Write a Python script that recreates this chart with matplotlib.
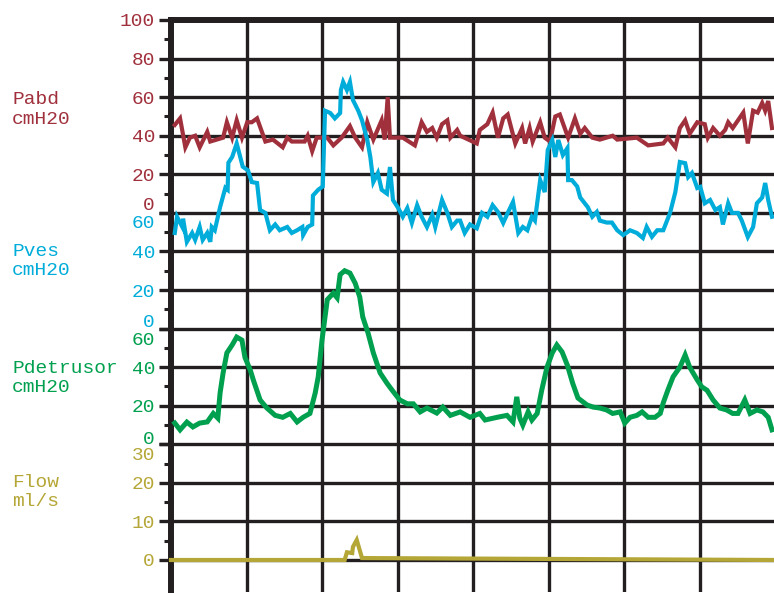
import matplotlib.pyplot as plt
from matplotlib.ticker import FixedLocator

# time in grid divisions (8 divisions across the trace)
pabd_t = [0.05, 0.12, 0.19, 0.25, 0.32, 0.38, 0.48, 0.52, 0.69, 0.74, 0.81, 0.87, 0.94, 1.01,
          1.07, 1.14, 1.25, 1.35, 1.48, 1.54, 1.60, 1.77, 1.81, 1.87, 1.93, 2.07, 2.15, 2.26,
          2.37, 2.44, 2.53, 2.60, 2.68, 2.79, 2.83, 2.87, 2.90, 3.07, 3.23, 3.32, 3.39, 3.46,
          3.52, 3.59, 3.66, 3.70, 3.79, 3.83, 4.05, 4.09, 4.19, 4.26, 4.33, 4.40, 4.46, 4.56,
          4.65, 4.69, 4.75, 4.79, 4.89, 4.95, 5.02, 5.09, 5.15, 5.26, 5.35, 5.42, 5.48, 5.58,
          5.68, 5.85, 5.91, 6.17, 6.32, 6.52, 6.58, 6.68, 6.74, 6.81, 6.87, 6.97, 7.07, 7.11,
          7.18, 7.27, 7.34, 7.38, 7.44, 7.51, 7.58, 7.64, 7.71, 7.77, 7.83, 7.87, 7.91, 7.96]
pabd = [45.6, 49, 34, 39, 40, 34, 42, 37, 39, 47, 39, 48, 39, 47,
        47, 49, 37, 38, 34, 39, 37, 37, 40, 32, 39, 39, 35, 39,
        45, 39, 34, 47, 38, 48, 38, 60, 39, 39, 35, 47, 42, 44,
        39, 46, 48, 39, 43, 40, 36, 43, 46, 52, 39, 49, 51, 36,
        44, 36, 44, 37, 47, 39, 37, 50, 51, 39, 49, 41, 44, 39,
        38, 40, 38, 39, 35, 36, 39, 34, 44, 48, 41, 47, 46, 39,
        44, 40, 43, 47, 44, 48, 52, 36, 53, 52, 57, 53, 58, 44]

pves_t = [0.05, 0.08, 0.15, 0.16, 0.21, 0.28, 0.32, 0.38, 0.42, 0.48, 0.52, 0.54, 0.58, 0.65,
          0.72, 0.75, 0.76, 0.81, 0.87, 0.91, 0.95, 1.02, 1.07, 1.14, 1.18, 1.25, 1.31, 1.38,
          1.44, 1.54, 1.60, 1.67, 1.74, 1.75, 1.81, 1.87, 1.88, 1.95, 2.01, 2.04, 2.11, 2.17,
          2.24, 2.25, 2.28, 2.33, 2.37, 2.41, 2.48, 2.53, 2.60, 2.64, 2.68, 2.74, 2.79, 2.86,
          2.90, 2.94, 3.01, 3.07, 3.13, 3.19, 3.26, 3.32, 3.39, 3.46, 3.50, 3.59, 3.66, 3.72,
          3.79, 3.83, 3.89, 3.96, 4.05, 4.12, 4.19, 4.26, 4.33, 4.40, 4.46, 4.53, 4.60, 4.66,
          4.72, 4.78, 4.82, 4.89, 4.95, 4.99, 5.05, 5.09, 5.13, 5.19, 5.25, 5.26, 5.31, 5.38,
          5.42, 5.48, 5.52, 5.58, 5.64, 5.68, 5.77, 5.84, 5.91, 5.99, 6.08, 6.17, 6.25, 6.30,
          6.37, 6.44, 6.52, 6.61, 6.68, 6.74, 6.81, 6.85, 6.90, 6.97, 7.01, 7.07, 7.14, 7.21,
          7.27, 7.31, 7.38, 7.43, 7.51, 7.56, 7.64, 7.71, 7.76, 7.83, 7.87, 7.91, 7.96]
pves = [49.6, 58, 52.7, 57, 45, 49.6, 46, 52.7, 46, 49.6, 45, 52.7, 51, 63,
        73, 72, 86, 89, 96, 90, 84, 82, 76, 75.5, 61.5, 60, 51, 54,
        51, 52.7, 49.6, 51, 52.7, 48.5, 52.7, 54, 69, 72, 73.7, 113, 111.8, 109,
        111.8, 123.7, 127.9, 123.7, 127.9, 118.5, 113, 108, 97.8, 89, 76, 80.7, 72, 70,
        83.8, 66.7, 62.5, 58, 62.5, 54.8, 64, 58, 52.7, 59, 52.7, 66.7, 60, 52.7,
        56, 56, 49.6, 54, 52, 60, 58, 64, 60.5, 54.8, 60, 65.7, 49.6, 52.7,
        51, 58, 56, 77, 70.8, 92.6, 97.8, 89, 97.8, 90, 93.6, 77, 77, 73.7,
        68, 65, 63, 58, 60.5, 56, 55, 55, 51, 48.5, 51, 49.6, 47, 52.7,
        47.6, 51, 51, 60, 70.8, 86.4, 85.8, 78.6, 80.7, 72.9, 73.5, 65, 66.7, 61.5,
        63, 54, 65, 60, 60, 56, 47.5, 52.7, 65, 68, 75.5, 66.7, 58]

pdet_t = [0.05, 0.12, 0.21, 0.29, 0.38, 0.48, 0.56, 0.62, 0.65, 0.69, 0.74, 0.81, 0.87, 0.94,
          0.98, 1.05, 1.09, 1.18, 1.27, 1.38, 1.48, 1.58, 1.67, 1.75, 1.84, 1.91, 1.95, 2.00,
          2.07, 2.15, 2.20, 2.24, 2.30, 2.37, 2.44, 2.50, 2.54, 2.61, 2.68, 2.77, 2.86, 2.93,
          3.03, 3.13, 3.21, 3.30, 3.39, 3.52, 3.60, 3.70, 3.83, 3.96, 4.09, 4.16, 4.32, 4.45,
          4.53, 4.58, 4.62, 4.66, 4.73, 4.78, 4.85, 4.91, 4.98, 5.05, 5.11, 5.18, 5.25, 5.32,
          5.39, 5.51, 5.59, 5.68, 5.77, 5.85, 5.95, 6.01, 6.08, 6.17, 6.24, 6.32, 6.41, 6.48,
          6.52, 6.58, 6.65, 6.74, 6.81, 6.87, 6.97, 7.03, 7.10, 7.18, 7.27, 7.36, 7.44, 7.51,
          7.60, 7.67, 7.76, 7.84, 7.91, 7.96]
pdet = [11, 7.5, 11.5, 9, 11, 11.6, 16, 13.6, 26.6, 37, 47.4, 51.5, 55.6, 54,
        45, 38.5, 33.4, 23, 18.8, 15, 14, 16, 11.6, 14, 16, 26.6, 35, 54,
        75, 78.4, 76, 88, 90, 88.8, 83.5, 76.4, 66, 57.7, 47.4, 37, 31.7, 28,
        23, 21, 21, 16.8, 18.8, 16.2, 19.3, 15, 16.8, 14, 16, 12.6, 14, 15,
        11.6, 24.6, 13.6, 10, 16.8, 12.6, 16, 28, 40, 47.4, 51.5, 47.9, 41, 31.7,
        24, 20.4, 19.3, 18.8, 17.8, 16, 16.8, 11, 14, 15, 16.8, 14, 14, 16,
        21.5, 28, 35, 40, 46.3, 40, 33.4, 29.8, 28, 23, 18.8, 17.8, 16, 16,
        23, 16, 17.8, 16.8, 14, 7.5]

flow_t = [0.0, 2.30, 2.33, 2.40, 2.41, 2.46, 2.53, 8.0]
flow = [0, 0, 2, 1.8, 3.4, 5.2, 0.5, 0]

RED = '#a0303c'
BLUE = '#00acd9'
GREEN = '#00a04f'
OLIVE = '#b5a737'
INK = '#231f20'

plt.rcParams['font.family'] = ['Liberation Mono', 'DejaVu Sans Mono']

W, H = 774, 593
fig = plt.figure(figsize=(W / 100, H / 100), dpi=100)


def box(top, bottom):
    return [171 / W, 1 - bottom / H, 604 / W, (bottom - top) / H]


# name, unit, t, y, colour, ylim, ticks, axes box, label offsets (pt), label centre (px)
channels = [
    ('Pabd', 'cmH20', pabd_t, pabd, RED, (0, 100), [0, 20, 40, 60, 80, 100],
     box(20, 212.9), {0: 6.5}, 109.5, 3.0),
    ('Pves', 'cmH20', pves_t, pves, BLUE, (0, 60), [0, 20, 40, 60],
     box(212.9, 328.6), {60: -6.0, 0: 5.5}, 261, 3.0),
    ('Pdetrusor', 'cmH20', pdet_t, pdet, GREEN, (0, 60), [0, 20, 40, 60],
     box(328.6, 444.3), {60: -6.8, 0: 5.0}, 378, 3.6),
    ('Flow', 'ml/s', flow_t, flow, OLIVE, (-8.3, 30), [0, 10, 20, 30],
     box(444.3, 592), {30: -6.3}, 492, 3.0),
]

for name, unit, t, y, col, ylim, ticks, pos, offs, label_y, lw in channels:
    ax = fig.add_axes(pos)
    ax.set_facecolor('none')
    ax.plot(t, y, color=col, lw=lw, clip_on=False, solid_joinstyle='miter', zorder=3)
    ax.set_xlim(0, 8)
    ax.set_ylim(*ylim)

    ax.xaxis.set_major_locator(FixedLocator(range(1, 8)))
    ax.yaxis.set_major_locator(FixedLocator(ticks))
    step = ticks[1] - ticks[0]
    ax.yaxis.set_minor_locator(FixedLocator([v + step / 2 for v in ticks[:-1]]))
    ax.grid(True, which='major', color=INK, lw=2.4)
    ax.set_axisbelow(True)
    ax.tick_params(axis='x', length=0, labelbottom=False)
    ax.tick_params(axis='y', which='major', length=8.5, width=2.4, color=INK, labelleft=False)
    ax.tick_params(axis='y', which='minor', length=5, width=2.2, color=INK)

    for s in ['right', 'bottom', 'top']:
        ax.spines[s].set_visible(False)
    ax.spines['left'].set_linewidth(4.3)
    ax.spines['left'].set_color(INK)
    if name == 'Pabd':
        ax.spines['top'].set_visible(True)
        ax.spines['top'].set_linewidth(4.3)
        ax.spines['top'].set_color(INK)
    if name == 'Flow':
        ax.yaxis.get_major_ticks()[0].tick1line.set_color(col)

    for v in ticks:
        ax.annotate(str(v), xy=(0, v), xycoords=ax.get_yaxis_transform(),
                    xytext=(-11.5, offs.get(v, 0)), textcoords='offset points',
                    ha='right', va='center_baseline', fontsize=14, color=col,
                    annotation_clip=False)

    fig.text(12 / W, 1 - label_y / H, name + '\n' + unit, ha='left', va='center',
             fontsize=14, color=col, linespacing=1.2)

fig.savefig('out.png', dpi=100, facecolor='white')
